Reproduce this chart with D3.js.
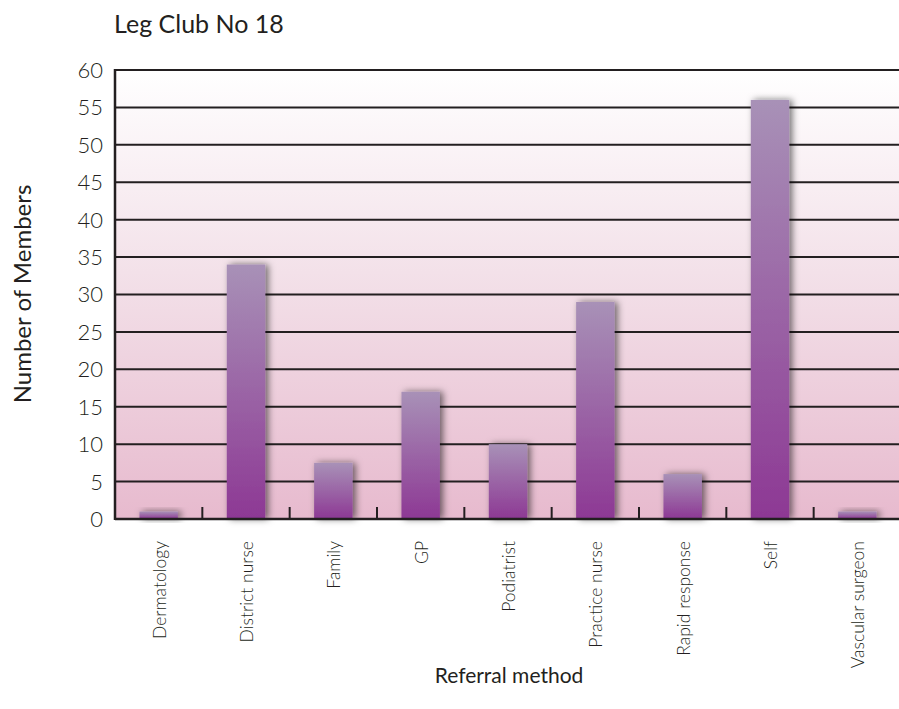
<!DOCTYPE html>
<html>
<head>
<meta charset="utf-8">
<script src="https://cdn.jsdelivr.net/npm/d3@7"></script>
<style>
  html, body { margin: 0; padding: 0; background: #ffffff; }
  svg { display: block; }
  text { font-family: Lato, "Open Sans", sans-serif; fill: #231f20; }
</style>
</head>
<body>
<svg id="chart" width="899" height="709"></svg>
<script>
// Referral method counts for Leg Club No 18
const categories = ["Dermatology", "District nurse", "Family", "GP", "Podiatrist",
                    "Practice nurse", "Rapid response", "Self", "Vascular surgeon"];
const members = [1, 34, 7.5, 17, 10, 29, 6, 56, 1];
const yTicks = [0, 5, 10, 15, 20, 25, 30, 35, 40, 45, 50, 55, 60];
const chartTitle = "Leg Club No 18";
const yTitle = "Number of Members";
const xTitle = "Referral method";

const svg = d3.select("#chart");
const plotLeft = 115, plotRight = 901, plotTop = 70, plotBottom = 519;

const x = d3.scaleBand().domain(categories).range([plotLeft, plotRight])
  .paddingInner(0.56).paddingOuter(0.28);
const y = d3.scaleLinear().domain([0, 60]).range([plotBottom, plotTop]);

const defs = svg.append("defs");
const bg = defs.append("linearGradient").attr("id", "bgGrad")
  .attr("x1", 0).attr("y1", 0).attr("x2", 0).attr("y2", 1);
bg.append("stop").attr("offset", "0%").attr("stop-color", "#ffffff");
bg.append("stop").attr("offset", "45%").attr("stop-color", "#f3e1e9");
bg.append("stop").attr("offset", "100%").attr("stop-color", "#e7bace");

const barGrad = defs.append("linearGradient").attr("id", "barGrad")
  .attr("x1", 0).attr("y1", 0).attr("x2", 0).attr("y2", 1);
barGrad.append("stop").attr("offset", "0%").attr("stop-color", "#a891b7");
barGrad.append("stop").attr("offset", "100%").attr("stop-color", "#8d3894");

const shadow = defs.append("filter").attr("id", "shadow")
  .attr("x", "-50%").attr("y", "-50%").attr("width", "200%").attr("height", "200%");
shadow.append("feDropShadow").attr("dx", 3).attr("dy", 0)
  .attr("stdDeviation", 3.5).attr("flood-color", "#000").attr("flood-opacity", 0.55);

// plot background
svg.append("rect").attr("x", plotLeft).attr("y", plotTop)
  .attr("width", plotRight - plotLeft).attr("height", plotBottom - plotTop)
  .attr("fill", "url(#bgGrad)");

// horizontal gridlines
svg.append("g").selectAll("line").data(yTicks.filter(d => d > 0)).join("line")
  .attr("x1", plotLeft).attr("x2", plotRight)
  .attr("y1", d => y(d)).attr("y2", d => y(d))
  .attr("stroke", "#231f20").attr("stroke-width", 2);

// bars
svg.append("g").selectAll("rect").data(categories).join("rect")
  .attr("x", d => x(d))
  .attr("width", x.bandwidth())
  .attr("y", (d, i) => y(members[i]))
  .attr("height", (d, i) => y(0) - y(members[i]))
  .attr("fill", "url(#barGrad)")
  .attr("filter", "url(#shadow)");

// baseline and left axis
svg.append("line").attr("x1", plotLeft).attr("x2", plotRight)
  .attr("y1", plotBottom).attr("y2", plotBottom)
  .attr("stroke", "#231f20").attr("stroke-width", 2.5);
svg.append("line").attr("x1", plotLeft).attr("x2", plotLeft)
  .attr("y1", plotTop - 1).attr("y2", plotBottom + 1)
  .attr("stroke", "#231f20").attr("stroke-width", 2.5);

// category separators on the baseline
const gap = x.step() - x.bandwidth();
svg.append("g").selectAll("line").data(categories.slice(1)).join("line")
  .attr("x1", d => x(d) - gap / 2).attr("x2", d => x(d) - gap / 2)
  .attr("y1", plotBottom - 12).attr("y2", plotBottom)
  .attr("stroke", "#231f20").attr("stroke-width", 2);

// y tick labels
svg.append("g").selectAll("text").data(yTicks).join("text")
  .attr("x", 103).attr("y", d => y(d))
  .attr("dy", "0.36em")
  .attr("text-anchor", "end")
  .attr("font-size", 22)
  .attr("font-weight", 300)
  .text(d => d);

// x category labels, rotated
svg.append("g").selectAll("text").data(categories).join("text")
  .attr("transform", d => `translate(${x(d) + x.bandwidth() / 2 + 7},541) rotate(-90)`)
  .attr("text-anchor", "end")
  .attr("font-size", 17.5)
  .attr("font-weight", 300)
  .text(d => d);

// titles
svg.append("text").attr("x", 114).attr("y", 33)
  .attr("font-size", 25).text(chartTitle);
svg.append("text")
  .attr("transform", "translate(31,294) rotate(-90)")
  .attr("text-anchor", "middle")
  .attr("font-size", 24).text(yTitle);
svg.append("text").attr("x", 509).attr("y", 683)
  .attr("text-anchor", "middle")
  .attr("font-size", 21).text(xTitle);
</script>
</body>
</html>
